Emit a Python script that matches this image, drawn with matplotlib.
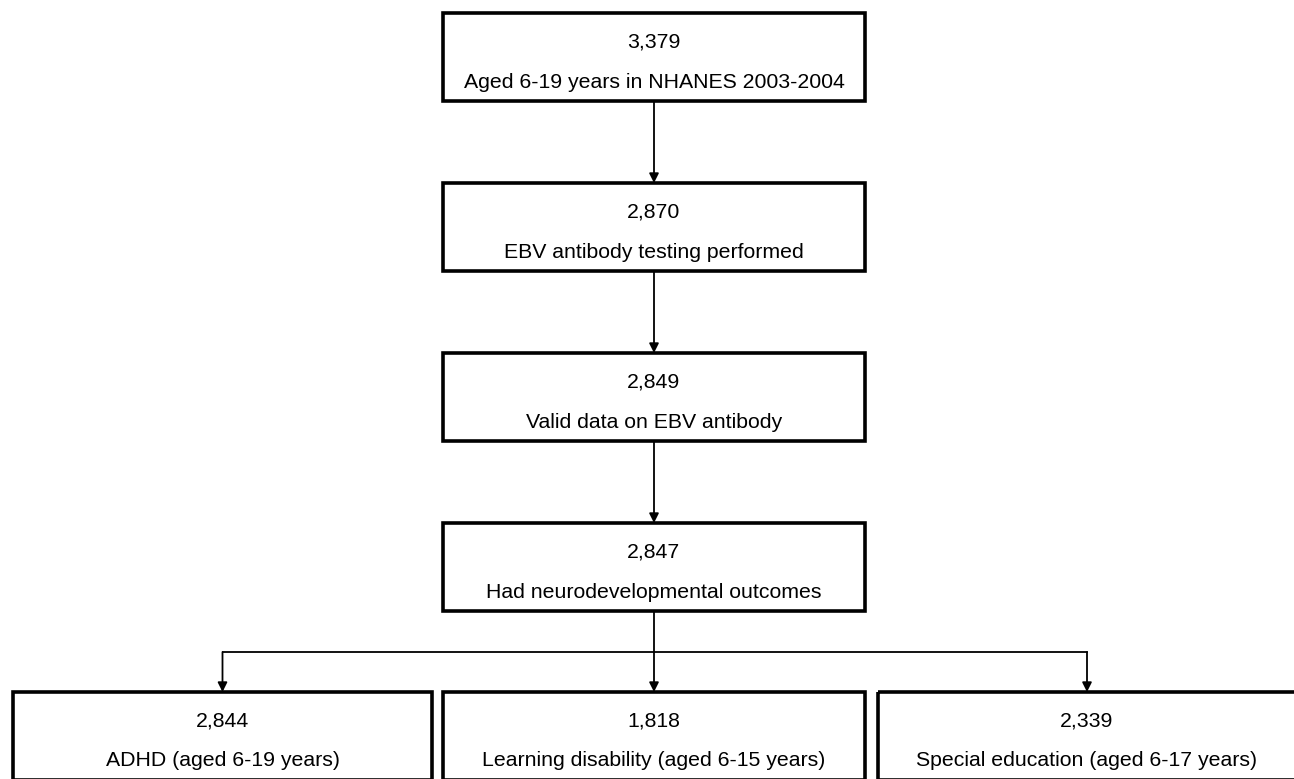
import matplotlib.pyplot as plt
from matplotlib.patches import Rectangle

plt.rcParams['font.family'] = ['Liberation Sans', 'DejaVu Sans']

# flow steps (main column)
counts = ["3,379", "2,870", "2,849", "2,847"]
labels = ["Aged 6-19 years in NHANES 2003-2004",
          "EBV antibody testing performed",
          "Valid data on EBV antibody",
          "Had neurodevelopmental outcomes"]

# outcome boxes (bottom row)
out_counts = ["2,844", "1,818", "2,339"]
out_labels = ["ADHD (aged 6-19 years)",
              "Learning disability (aged 6-15 years)",
              "Special education (aged 6-17 years)"]

W, H = 1294, 779
fig = plt.figure(figsize=(W / 100, H / 100), dpi=100)
ax = fig.add_axes([0, 0, 1, 1])
ax.set_xlim(0, W)
ax.set_ylim(H, 0)
ax.axis('off')

box_h = 88
main_x0, main_x1 = 443, 865
main_tops = [13, 183, 353, 523]
out_top = 692
out_x = [(13, 432), (443, 865), (878, 1296)]
fs = 15.3


def draw_box(x0, x1, top, num, text):
    ax.add_patch(Rectangle((x0, top), x1 - x0, box_h, fill=False,
                           edgecolor='black', linewidth=2.6, zorder=2))
    cx = (x0 + x1) / 2
    ax.text(cx, top + 29, num, ha='center', va='center', fontsize=fs)
    ax.text(cx, top + 69, text, ha='center', va='center', fontsize=fs)


def arrow(x, y0, y1):
    ax.annotate('', xy=(x, y1), xytext=(x, y0),
                arrowprops=dict(arrowstyle='-|>', color='black', lw=1.3,
                                mutation_scale=14, shrinkA=0, shrinkB=0))


for top, n, t in zip(main_tops, counts, labels):
    draw_box(main_x0, main_x1, top, n, t)

cx = (main_x0 + main_x1) / 2
for i in range(len(main_tops) - 1):
    arrow(cx, main_tops[i] + box_h, main_tops[i + 1])

for (x0, x1), n, t in zip(out_x, out_counts, out_labels):
    draw_box(x0, x1, out_top, n, t)

# branch to outcome boxes
split_y = 652
centers = [(a + b) / 2 for a, b in out_x]
ax.plot([cx, cx], [main_tops[-1] + box_h, split_y], color='black', lw=1.3)
ax.plot([centers[0], centers[-1]], [split_y, split_y], color='black', lw=1.3)
for c in centers:
    arrow(c, split_y, out_top)

fig.savefig('out.png', dpi=100)
